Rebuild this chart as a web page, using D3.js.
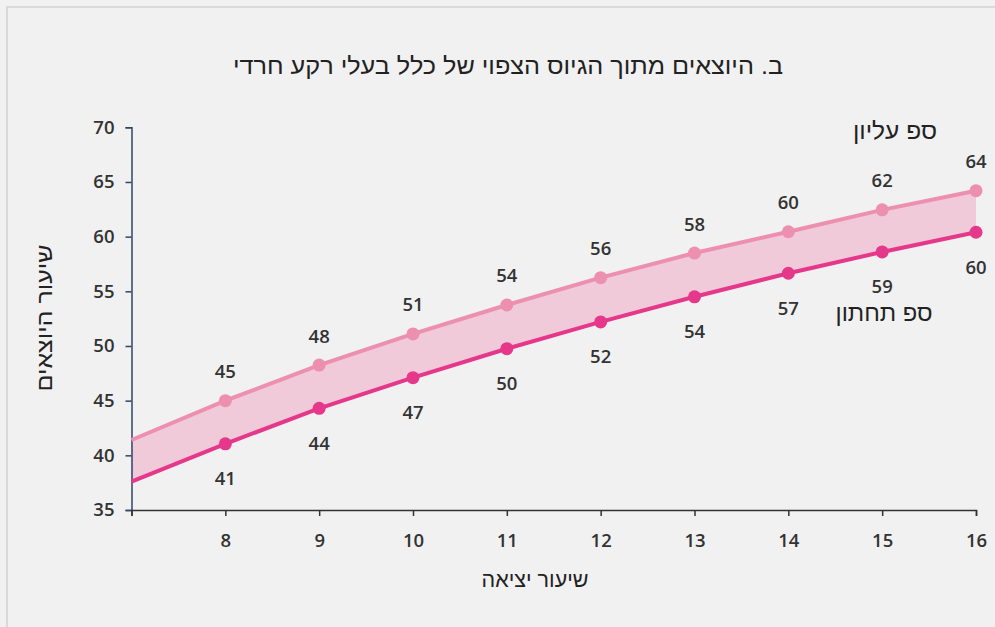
<!DOCTYPE html>
<html>
<head>
<meta charset="utf-8">
<script src="https://cdn.jsdelivr.net/npm/d3@7"></script>
<style>
  body { margin: 0; background: #f1f1f1; }
  svg { display: block; }
  .num { font-family: "Open Sans", "Noto Sans", sans-serif; font-weight: 600; fill: #333; font-size: 18.5px; }
  .heb { font-family: "Liberation Sans Narrow", "Liberation Sans", sans-serif; fill: #222; }
</style>
</head>
<body>
<div id="chart"></div>
<script>
"use strict";

// x = exit rate, first point (7) is where the band meets the y axis
const exitRate = [7, 8, 9, 10, 11, 12, 13, 14, 15, 16];
const upper = [41.4, 45.0, 48.25, 51.1, 53.75, 56.25, 58.5, 60.45, 62.45, 64.2];
const lower = [37.6, 41.05, 44.3, 47.1, 49.75, 52.2, 54.5, 56.65, 58.6, 60.4];
const upperLabels = [null, 45, 48, 51, 54, 56, 58, 60, 62, 64];
const lowerLabels = [null, 41, 44, 47, 50, 52, 54, 57, 59, 60];
const xTicks = [8, 9, 10, 11, 12, 13, 14, 15, 16];
const yTicks = [35, 40, 45, 50, 55, 60, 65, 70];

const W = 995, H = 627;
const x0 = 131.5, x1 = 976, yTop = 127.3, yBot = 510;

const svg = d3.select("#chart").append("svg").attr("width", W).attr("height", H);

// frame
svg.append("rect").attr("x", 0).attr("y", 0).attr("width", W).attr("height", H).attr("fill", "#f1f1f1");
svg.append("path").attr("d", "M7," + H + "V7H" + W).attr("fill", "none").attr("stroke", "#dadada").attr("stroke-width", 2);

const x = d3.scaleLinear().domain([7, 16]).range([x0, x1]);
const y = d3.scaleLinear().domain([35, 70]).range([yBot, yTop]);

const pts = exitRate.map((v, i) => ({x: v, hi: upper[i], lo: lower[i], hl: upperLabels[i], ll: lowerLabels[i]}));

// band between the two bounds
const area = d3.area().x(d => x(d.x)).y0(d => y(d.lo)).y1(d => y(d.hi));
svg.append("path").datum(pts).attr("d", area).attr("fill", "#f0cad8");

// axes
const yAxis = svg.append("g").attr("transform", "translate(" + x0 + ",0)")
  .call(d3.axisLeft(y).tickValues(yTicks).tickSize(6).tickPadding(11));
yAxis.select(".domain").attr("stroke", "#2f4664").attr("stroke-width", 1.5);
yAxis.selectAll(".tick line").attr("stroke", "#2f4664").attr("stroke-width", 1.5);
yAxis.selectAll("text").attr("class", "num").attr("font-size", null).attr("font-family", null).attr("fill", null);

const xAxis = svg.append("g").attr("transform", "translate(0," + yBot + ")")
  .call(d3.axisBottom(x).tickValues([7].concat(xTicks)).tickFormat(d => d === 7 ? "" : d).tickSize(6).tickPadding(18));
xAxis.select(".domain").attr("stroke", "#333").attr("stroke-width", 1.5);
xAxis.selectAll(".tick line").attr("stroke", "#333").attr("stroke-width", 1.5);
xAxis.selectAll("text").attr("class", "num").attr("font-size", null).attr("font-family", null).attr("fill", null);

// lines
const lineHi = d3.line().x(d => x(d.x)).y(d => y(d.hi));
const lineLo = d3.line().x(d => x(d.x)).y(d => y(d.lo));
svg.append("path").datum(pts).attr("d", lineHi).attr("fill", "none").attr("stroke", "#ed8fae").attr("stroke-width", 4);
svg.append("path").datum(pts).attr("d", lineLo).attr("fill", "none").attr("stroke", "#e5388a").attr("stroke-width", 4);

const marked = pts.filter(d => d.hl !== null);

svg.append("g").selectAll("circle").data(marked).enter().append("circle")
  .attr("cx", d => x(d.x)).attr("cy", d => y(d.hi)).attr("r", 6.5).attr("fill", "#ed8fae");
svg.append("g").selectAll("circle").data(marked).enter().append("circle")
  .attr("cx", d => x(d.x)).attr("cy", d => y(d.lo)).attr("r", 6.5).attr("fill", "#e5388a");

// value labels
svg.append("g").selectAll("text").data(marked).enter().append("text").attr("class", "num")
  .attr("x", d => x(d.x)).attr("y", d => y(d.hi) - 29).attr("dy", "0.35em").attr("text-anchor", "middle")
  .text(d => d.hl);
svg.append("g").selectAll("text").data(marked).enter().append("text").attr("class", "num")
  .attr("x", d => x(d.x)).attr("y", d => y(d.lo) + 35).attr("dy", "0.35em").attr("text-anchor", "middle")
  .text(d => d.ll);

// hebrew texts, squeezed to the widths seen in the original
function heb(txt, px, len) {
  return svg.append("text").attr("class", "heb").attr("dy", "0.35em")
    .attr("text-anchor", "middle").attr("direction", "rtl").style("font-size", px + "px")
    .attr("textLength", len).attr("lengthAdjust", "spacingAndGlyphs")
    .text(txt);
}
heb("ב. היוצאים מתוך הגיוס הצפוי של כלל בעלי רקע חרדי", 24, 550).attr("x", 508).attr("y", 66);
heb("שיעור היוצאים", 22, 147).attr("transform", "translate(44,318) rotate(-90)");
heb("שיעור יציאה", 22, 107).attr("x", 535).attr("y", 579);
heb("ספ עליון", 24, 84).attr("x", 895).attr("y", 131);
heb("ספ תחתון", 24, 97).attr("x", 884).attr("y", 313);
</script>
</body>
</html>
